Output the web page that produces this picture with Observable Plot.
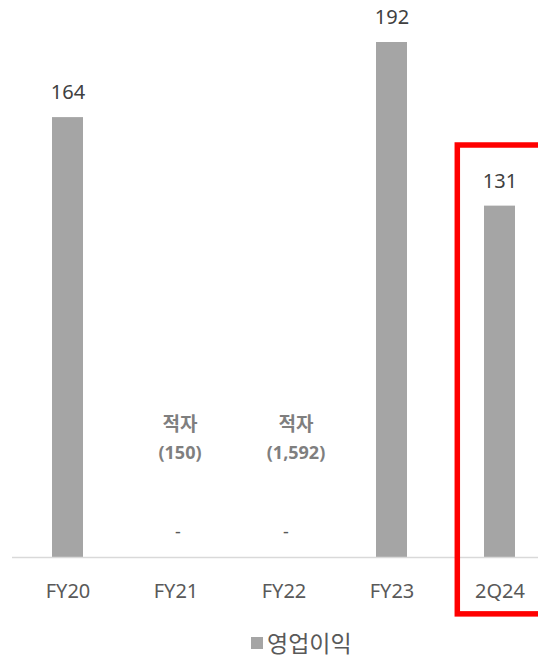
<!DOCTYPE html>
<html>
<head>
<meta charset="utf-8">
<script src="https://cdn.jsdelivr.net/npm/d3@7"></script>
<script src="https://cdn.jsdelivr.net/npm/@observablehq/plot@0.6"></script>
<style>
  html, body { margin: 0; padding: 0; background: #fff; }
  body { width: 538px; height: 659px; overflow: hidden; font-family: "Noto Sans", "Noto Sans CJK KR", sans-serif; }
  #legend { height: 34px; position: relative; }
  #legend .sw { position: absolute; left: 251px; top: 12px; width: 12px; height: 12px; background: #a5a5a5; }
  #legend .tx { position: absolute; left: 267px; top: 0px; line-height: 34px; font-size: 23px; color: #595959; font-family: "Noto Sans CJK KR", sans-serif; }
</style>
</head>
<body>
<div id="chart"></div>
<div id="legend"><span class="sw"></span><span class="tx">영업이익</span></div>
<script>
const categories = ["FY20", "FY21", "FY22", "FY23", "2Q24"];
const operatingProfit = [164, -150, -1592, 192, 131];
const seriesName = "영업이익";
const deficitWord = "적자";
const highlight = "2Q24";
const highlightSpan = [-21.2, 153.6];

const fmt = d3.format(",");
const data = categories.map((c, i) => ({ cat: c, v: operatingProfit[i] }));
const pos = data.filter(d => d.v > 0);
const neg = data.filter(d => d.v <= 0);

// deficit note marks, one per category (text box offsets differ as in the original)
const noteShift = { "FY21": 4, "FY22": 12 };
const noteMarks = neg.flatMap(d => [
  Plot.text([d], { x: "cat", y: () => 0, text: () => deficitWord, dy: -133, dx: noteShift[d.cat] || 0, fontSize: 19, fontWeight: "bold", fill: "#7f7f7f", fontFamily: "'Noto Sans CJK KR', sans-serif" }),
  Plot.text([d], { x: "cat", y: () => 0, text: d => `(${fmt(-d.v)})`, dy: -104, dx: noteShift[d.cat] || 0, fontSize: 18, fontWeight: "bold", fill: "#7f7f7f" })
]);

const plot = Plot.plot({
  width: 538,
  height: 625,
  marginTop: 42,
  marginBottom: 68,
  marginLeft: 12,
  marginRight: 0,
  style: { fontFamily: "'Noto Sans', 'Noto Sans CJK KR', sans-serif", background: "#fff" },
  x: { domain: categories, range: [12, 555], paddingInner: 0.715, paddingOuter: 0.3575, label: null },
  y: { domain: [0, 192], axis: null },
  marks: [
    Plot.barY(pos, { x: "cat", y: "v", fill: "#a5a5a5" }),
    Plot.ruleY([0], { stroke: "#d9d9d9", strokeWidth: 1.5 }),
    Plot.axisX({ tickSize: 0, tickPadding: 26, fontSize: 20, fill: "#595959", label: null }),
    Plot.text(pos, { x: "cat", y: "v", text: d => fmt(d.v), dy: -25, fontSize: 20, fill: "#404040" }),
    Plot.text(neg, { x: "cat", y: () => 0, text: () => "-", dx: 2, dy: -25, fontSize: 18, fill: "#595959" }),
    ...noteMarks,
    Plot.barY([highlight], { x: d => d, y1: () => highlightSpan[0], y2: () => highlightSpan[1], fill: "none", stroke: "#ff0000", strokeWidth: 5.5, insetLeft: -26.7, insetRight: -26.7 })
  ]
});
document.getElementById("chart").appendChild(plot);
</script>
</body>
</html>
